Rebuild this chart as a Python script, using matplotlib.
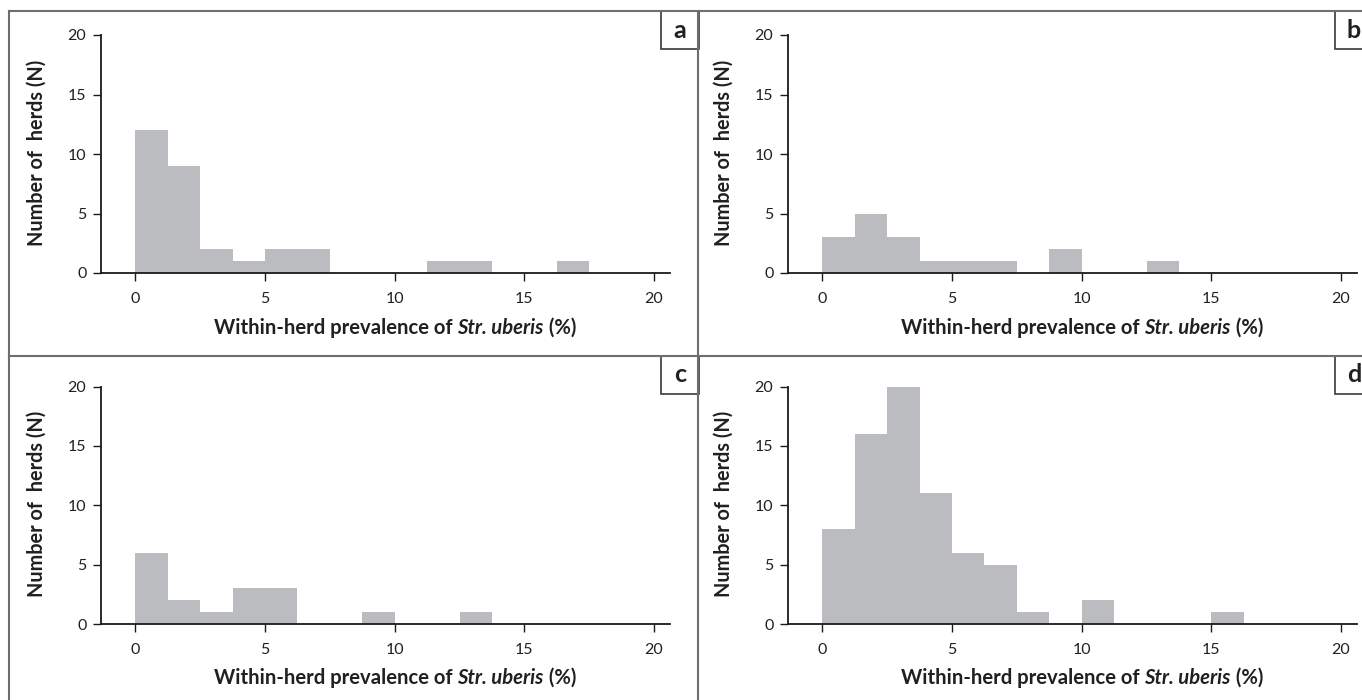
import matplotlib
matplotlib.use("Agg")
import matplotlib.pyplot as plt
from matplotlib.patches import Rectangle
from matplotlib.lines import Line2D
import numpy as np

# ---------------- data ----------------
bin_width = 1.25
bin_starts = [i * 1.25 for i in range(16)]  # 0 .. 18.75
counts_a = [12, 9, 2, 1, 2, 2, 0, 0, 0, 1, 1, 0, 0, 1, 0, 0]
counts_b = [3, 5, 3, 1, 1, 1, 0, 2, 0, 0, 1, 0, 0, 0, 0, 0]
counts_c = [6, 2, 1, 3, 3, 0, 0, 1, 0, 0, 1, 0, 0, 0, 0, 0]
counts_d = [8, 16, 20, 11, 6, 5, 1, 0, 2, 0, 0, 0, 1, 0, 0, 0]
panel_letters = ["a", "b", "c", "d"]
x_ticks = [0, 5, 10, 15, 20]
y_ticks = [0, 5, 10, 15, 20]
ylabel_text = "Number of  herds (N)"
xlabel_parts = ["Within-herd prevalence of ", "Str. uberis", " (%)"]

W, H = 1362, 700
DPI = 100
plt.rcParams['font.family'] = ['Lato', 'DejaVu Sans']
fig = plt.figure(figsize=(W / DPI, H / DPI), dpi=DPI)

def fx(x):
    return x / W

def fy(y):
    return 1 - y / H

bar_color = "#bbbcc0"
text_color = "#231f20"

# axes positions in pixels: (y-axis x, y of value 0, y of value 20)
layout = [
    (101, 273, 35),
    (788, 273, 35),
    (101, 624, 386.5),
    (788, 624, 386.5),
]
all_counts = [counts_a, counts_b, counts_c, counts_d]
ax_width_px = 569
xlim = (-1.33, 20.62)

for (xl, y0, y20), counts in zip(layout, all_counts):
    ax = fig.add_axes([fx(xl), fy(y0), ax_width_px / W, (y0 - y20) / H])
    ax.bar(bin_starts, counts, width=bin_width, align='edge', color=bar_color,
           edgecolor='none', linewidth=0)
    ax.set_xlim(*xlim)
    ax.set_ylim(0, 20)
    ax.set_xticks(x_ticks)
    ax.set_yticks(y_ticks)
    ax.spines['top'].set_visible(False)
    ax.spines['right'].set_visible(False)
    ax.spines['left'].set_bounds(0, 20)
    for s in ('left', 'bottom'):
        ax.spines[s].set_linewidth(1.3)
        ax.spines[s].set_color('#1a1a1a')
    ax.tick_params(axis='both', direction='out', length=5.5, width=1.0,
                   color='#1a1a1a', labelsize=11.5, labelcolor=text_color)
    ax.tick_params(axis='x', pad=8)
    ax.tick_params(axis='y', pad=5)
    ax.patch.set_alpha(0)

# y labels
for (xc, yc) in [(37, 153), (724, 153), (37, 504), (724, 504)]:
    fig.text(fx(xc), fy(yc), ylabel_text, rotation=90, ha='center', va='center',
             fontsize=14.3, fontweight='bold', color=text_color)

# x labels (composite with bold italic part)
fig.canvas.draw()
renderer = fig.canvas.get_renderer()
for (xc, yc) in [(395, 328), (1082, 328), (395, 678), (1082, 678)]:
    styles = ['normal', 'italic', 'normal']
    texts = []
    for part, st in zip(xlabel_parts, styles):
        t = fig.text(0, fy(yc), part, ha='left', va='center', fontsize=14.6,
                     fontweight='bold', fontstyle=st, color=text_color)
        texts.append(t)
    widths = [t.get_window_extent(renderer).width for t in texts]
    total = sum(widths)
    x = xc - total / 2
    for t, w in zip(texts, widths):
        t.set_x(fx(x))
        x += w

# border lines
lc = '#6d6e71'
lines = [
    ((9, 1380), (11, 11)),
    ((9, 9), (11, 705)),
    ((698, 698), (11, 705)),
    ((9, 1380), (356, 356)),
]
for xs, ys in lines:
    fig.add_artist(Line2D([fx(xs[0]), fx(xs[1])], [fy(ys[0]), fy(ys[1])],
                          transform=fig.transFigure, color=lc, linewidth=1.5))

# panel letter boxes
boxes = [(661, 11), (1335, 11), (661, 356), (1335, 356)]
for (bx, by), letter in zip(boxes, panel_letters):
    fig.add_artist(Rectangle((fx(bx), fy(by + 38)), 38 / W, 38 / H,
                             transform=fig.transFigure, facecolor='white',
                             edgecolor='#3a3a3a', linewidth=1.2))
    fig.text(fx(bx + 19), fy(by + 19), letter, ha='center', va='center',
             fontsize=18, fontweight='bold', color=text_color)

fig.savefig("out.png", dpi=DPI)
